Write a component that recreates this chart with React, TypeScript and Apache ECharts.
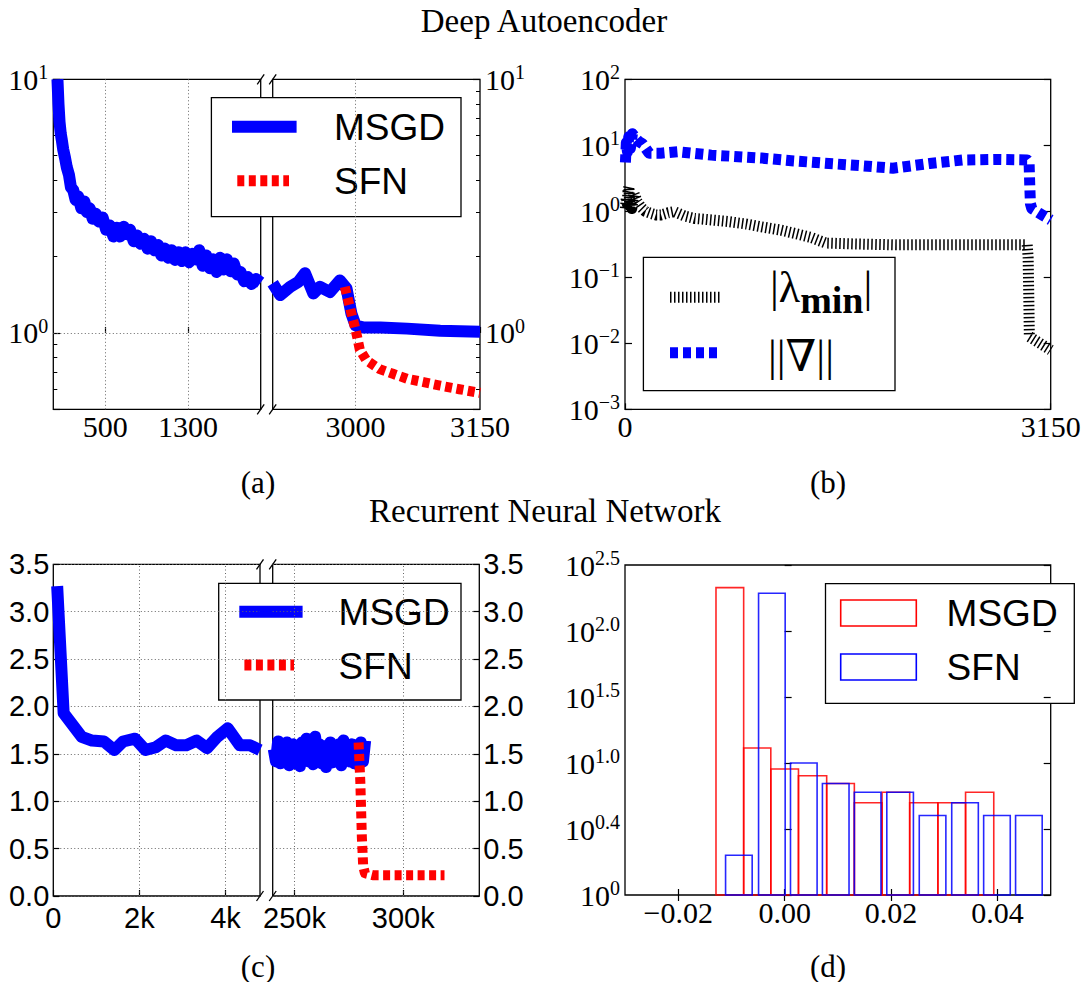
import React, { useEffect, useRef } from 'react';
import * as echarts from 'echarts';

const SERIF = '"Liberation Serif", "DejaVu Serif", serif';
const SANS = '"Liberation Sans", Arial, sans-serif';

// ---------- (a) Deep Autoencoder: training error ----------
const aLeftIter = [40, 50, 60, 72, 81, 95, 113, 130, 151, 170, 193, 215, 240, 270, 300, 322, 350, 380, 410, 440, 476, 510, 545, 580, 610, 643, 680, 709, 740, 775, 809, 840, 875, 910, 942, 975, 1010, 1042, 1075, 1110, 1142, 1175, 1210, 1240, 1275, 1310, 1340, 1375, 1408, 1440, 1475, 1510, 1541, 1575, 1610, 1641, 1675, 1710, 1740, 1774, 1805, 1840, 1874, 1910, 1955, 2000];
const aLeftMSGD = [10, 8.0, 6.8, 6.1, 5.8, 5.3, 4.9, 4.5, 4.2, 3.75, 3.65, 3.35, 3.45, 3.1, 3.3, 3.0, 3.1, 2.82, 2.95, 2.75, 2.85, 2.55, 2.65, 2.4, 2.6, 2.4, 2.62, 2.45, 2.55, 2.3, 2.42, 2.25, 2.35, 2.15, 2.3, 2.12, 2.22, 2.02, 2.15, 1.98, 2.12, 1.94, 2.08, 1.92, 2.08, 1.9, 2.05, 1.95, 2.12, 1.84, 2.02, 1.8, 1.95, 1.74, 1.98, 1.78, 1.95, 1.75, 1.88, 1.7, 1.74, 1.6, 1.66, 1.56, 1.63, 1.58];
const aRightIter = [2900, 2909, 2921, 2931, 2939, 2949, 2957, 2969, 2981, 2989, 2995, 3000, 3010, 3030, 3062, 3102, 3150];
const aRightMSGD = [1.57, 1.41, 1.52, 1.59, 1.72, 1.43, 1.52, 1.45, 1.61, 1.5, 1.19, 1.07, 1.05, 1.05, 1.04, 1.02, 1.01];
const aSfnIter = [2987, 2995, 2999, 3002, 3005, 3013, 3029, 3045, 3062, 3082, 3102, 3125, 3150];
const aSfn = [1.52, 1.19, 1.06, 0.96, 0.86, 0.78, 0.72, 0.69, 0.66, 0.64, 0.62, 0.6, 0.58];
const aLeftTicks = [500, 1300];
const aRightTicks = [3000, 3150];
const aMinorTickValues = [0.6, 0.7, 0.8, 0.9, 2, 3, 4, 5, 6, 7, 8, 9];

// ---------- (b) |lambda_min| and ||grad|| ----------
const bGradIter = [3, 10, 18, 28, 40, 55, 75, 100, 130, 178, 265, 389, 520, 639, 800, 1012, 1250, 1509, 1750, 1982, 2255, 2504, 2750, 2976, 2990, 2995, 3000, 3010, 3060, 3150];
const bGrad = [5.5, 11, 8, 13.5, 9, 15, 13, 11.5, 10.5, 7.6, 7.6, 8.0, 7.5, 7.1, 6.8, 6.4, 5.8, 5.3, 4.9, 4.5, 5.3, 6.0, 6.1, 6.0, 5.5, 2.5, 1.3, 1.1, 0.95, 0.74];
const bLamIter = [3, 10, 16, 22, 29, 35, 41, 50, 66, 90, 116, 150, 191, 230, 265, 320, 365, 440, 514, 640, 762, 900, 1012, 1150, 1261, 1380, 1485, 1700, 2008, 2500, 2976, 2983, 2988, 2992, 3150];
const bLam = [1.1, 1.6, 1.3, 2.0, 2.36, 1.2, 1.48, 1.1, 1.87, 1.4, 1.17, 1.0, 0.93, 0.88, 0.88, 0.95, 0.99, 0.85, 0.78, 0.74, 0.70, 0.64, 0.58, 0.52, 0.46, 0.40, 0.33, 0.32, 0.31, 0.31, 0.31, 0.2, 0.05, 0.0126, 0.0079];
const bXTicks = [0, 3150];

// ---------- (c) Recurrent Neural Network (iterations in thousands) ----------
const cLeftIter = [0.09, 0.24, 0.66, 0.9, 1.18, 1.42, 1.62, 1.9, 2.14, 2.38, 2.61, 2.85, 3.09, 3.33, 3.57, 3.81, 4.05, 4.33, 4.57, 4.8];
const cLeftMSGD = [3.27, 1.93, 1.68, 1.64, 1.63, 1.54, 1.63, 1.66, 1.54, 1.57, 1.64, 1.59, 1.59, 1.64, 1.56, 1.68, 1.77, 1.59, 1.59, 1.54];
const cRightIter = [240.5, 241.5, 242.5, 243.5, 244.5, 245.5, 246.5, 247.5, 248.5, 249.5, 250.5, 251.5, 252.5, 253.5, 254.5, 255.5, 256.5, 257.5, 258.5, 259.5, 260.5, 261.5, 262.5, 263.5, 264.5, 265.5, 266.5, 267.5, 268.5, 269.5, 270.5, 271.5, 272.5, 273.5, 274.5, 275.5, 276.5, 277.5, 278.5, 279.5, 280.5, 281.5, 282.5];
const cRightMSGD = [1.55, 1.42, 1.63, 1.40, 1.58, 1.45, 1.62, 1.38, 1.55, 1.60, 1.40, 1.57, 1.37, 1.62, 1.45, 1.66, 1.42, 1.55, 1.39, 1.68, 1.45, 1.60, 1.40, 1.58, 1.36, 1.55, 1.62, 1.41, 1.57, 1.44, 1.60, 1.38, 1.64, 1.45, 1.58, 1.42, 1.60, 1.40, 1.55, 1.38, 1.62, 1.42, 1.64];
const cSfnIter = [279.5, 280.3, 281.0, 281.6, 282.4, 286, 300, 319];
const cSfn = [1.62, 1.2, 0.62, 0.32, 0.24, 0.22, 0.22, 0.22];
const cLeftTicks = [0, 2, 4];
const cRightTicks = [250, 300];

// ---------- (d) histograms ----------
const dMsgdEdges = [-0.0129, -0.0077, -0.0026, 0.0026, 0.0079, 0.0131, 0.0183, 0.0235, 0.0288, 0.0340, 0.0393];
const dMsgdCounts = [213, 13, 9, 8, 7, 5, 6, 5, 5, 6];
const dSfnStarts = [-0.0111, -0.0049, 0.0011, 0.0071, 0.0131, 0.0192, 0.0253, 0.0314, 0.0374, 0.0434];
const dSfnBarWidth = 0.0050;
const dSfnCounts = [2, 193, 10, 7, 6, 6, 4, 5, 4, 4];
const dXTicks = [-0.02, 0, 0.02, 0.04];
const dExpLabels = ['0', '0.4', '1.0', '1.5', '2.0', '2.5'];

const zip = (xs: number[], ys: number[]) => xs.map((x, i) => [x, ys[i]]);

const BLUE = '#0000ff';
const RED = '#ff0000';
const GRID_LINE = { type: [1, 2.5], color: '#666', width: 1 };
const TICK_FONT = 30;

const supRich = {
  b: { fontFamily: SERIF, fontSize: TICK_FONT, lineHeight: 34, color: '#000' },
  e: { fontFamily: SERIF, fontSize: 20, lineHeight: 21, verticalAlign: 'top', color: '#000' },
};
const decadeFmt = (v: number) => {
  const e = Math.log10(v);
  const r = Math.round(e);
  if (Math.abs(e - r) > 1e-6) return '';
  return `{b|10}{e|${r < 0 ? '\u2212' + -r : r}}`;
};

const noLine = { axisLine: { show: false }, splitLine: { show: false } };
const tickStyle = { color: '#000', width: 1.2 };

function xAxis(gridIndex: number, min: number, max: number, ticks: number[], formatter: any, font = SERIF, size = TICK_FONT, position = 'bottom', showLabel = true, margin = 2) {
  return {
    type: 'value', gridIndex, min, max, position, ...noLine,
    axisTick: { show: true, inside: true, length: 6, customValues: ticks, lineStyle: tickStyle },
    axisLabel: { show: showLabel, customValues: ticks, formatter, margin, color: '#000', fontFamily: font, fontSize: size },
  };
}
function yLog(gridIndex: number, min: number, max: number, position: string, showLabel: boolean) {
  return {
    type: 'log', logBase: 10, gridIndex, min, max, position, ...noLine,
    axisTick: { show: true, inside: true, length: 7, lineStyle: tickStyle },
    axisLabel: { show: showLabel, formatter: decadeFmt, rich: supRich, margin: 5 },
  };
}
function yMinor(gridIndex: number, position: string) {
  return {
    type: 'value', gridIndex, min: Math.log10(0.5), max: 1, position, ...noLine,
    axisLabel: { show: false },
    axisTick: { show: true, inside: true, length: 4, customValues: aMinorTickValues.map(Math.log10), lineStyle: { color: '#000', width: 1 } },
  };
}
function yLin(gridIndex: number, position: string) {
  return {
    type: 'value', gridIndex, min: 0, max: 3.5, interval: 0.5, position,
    axisLine: { show: false },
    splitLine: { show: true, lineStyle: GRID_LINE },
    axisTick: { show: true, inside: true, length: 6, lineStyle: tickStyle },
    axisLabel: { formatter: (v: number) => v.toFixed(1), margin: 4, color: '#000', fontFamily: SANS, fontSize: 29 },
  };
}
function yExp(gridIndex: number, position: string, showLabel: boolean) {
  return {
    type: 'value', gridIndex, min: 0, max: 2.5, interval: 0.5, position, ...noLine,
    axisTick: { show: true, inside: true, length: 7, lineStyle: tickStyle },
    axisLabel: { show: showLabel, formatter: (v: number) => `{b|10}{e|${dExpLabels[Math.round(v / 0.5)]}}`, rich: supRich, margin: 5 },
  };
}

const gridMarks = (xs: number[], ys: number[]) => ({
  silent: true, symbol: ['none', 'none'], z: 1, animation: false,
  label: { show: false }, lineStyle: GRID_LINE, emphasis: { disabled: true },
  data: [...xs.map((v) => ({ xAxis: v })), ...ys.map((v) => ({ yAxis: v }))],
});

function lineSeries(name: string, xi: number, yi: number, data: number[][], lineStyle: any, markLine?: any) {
  return {
    name, type: 'line', xAxisIndex: xi, yAxisIndex: yi, data, symbol: 'none', showSymbol: false,
    lineStyle: { cap: 'butt', join: 'round', ...lineStyle }, emphasis: { disabled: true }, silent: true,
    ...(markLine ? { markLine } : {}),
  };
}

function histSeries(name: string, data: number[][], color: string) {
  return {
    name, type: 'custom', xAxisIndex: 5, yAxisIndex: 8, data, silent: true,
    encode: { x: [0, 1], y: 2 },
    renderItem: (_p: any, api: any) => {
      const a = api.coord([api.value(0), api.value(2)]);
      const b = api.coord([api.value(1), 1]);
      return {
        type: 'rect',
        shape: { x: a[0], y: a[1], width: b[0] - a[0], height: b[1] - a[1] },
        style: { fill: 'none', stroke: color, lineWidth: 1.6, opacity: 0.85 },
      };
    },
  };
}

function txt(x: number, y: number, text: string, font: string, align = 'left') {
  return { type: 'text', x, y, style: { text, font, fill: '#000', align, verticalAlign: 'middle', textAlign: align, textVerticalAlign: 'middle' } };
}
function hline(x1: number, x2: number, y: number, stroke: string, lineWidth: number, lineDash?: number[]) {
  return { type: 'line', shape: { x1, y1: y, x2, y2: y }, style: { stroke, lineWidth, lineDash: lineDash || null, lineCap: 'butt' } };
}
function box(x: number, y: number, width: number, height: number, stroke = '#000', lineWidth = 1.3) {
  return { type: 'rect', shape: { x, y, width, height }, style: { fill: stroke === '#000' ? '#fff' : 'none', stroke, lineWidth } };
}
function breakMarks(xs: number[], ys: number[]) {
  const out: any[] = [];
  xs.forEach((s) => ys.forEach((t) => out.push({ type: 'line', shape: { x1: s - 3.5, y1: t + 5, x2: s + 3.5, y2: t - 5 }, style: { stroke: '#000', lineWidth: 1.3 } })));
  return out;
}

function buildOption() {
  const g = (left: number, top: number, width: number, height: number) => ({
    left, top, width, height, show: true, borderColor: '#000', borderWidth: 1.3, backgroundColor: '#fff', containLabel: false, outerBoundsMode: 'none',
  });
  const kFmt = (v: number) => (v === 0 ? '0' : `${v}k`);
  const dFmt = (v: number) => (v < 0 ? '\u2212' : '') + Math.abs(v).toFixed(2);

  const msgdHist = dMsgdCounts.map((c, i) => [dMsgdEdges[i], dMsgdEdges[i + 1], c]);
  const sfnHist = dSfnCounts.map((c, i) => [dSfnStarts[i], dSfnStarts[i] + dSfnBarWidth, c]);

  const lamRich = {
    a: { fontFamily: SERIF, fontSize: 44, lineHeight: 64, color: '#000' },
    m: { fontFamily: SERIF, fontSize: 38, fontWeight: 'bold', lineHeight: 38, padding: [26, 0, 0, 0], verticalAlign: 'top', color: '#000' },
  };

  return {
    animation: false,
    backgroundColor: '#fff',
    grid: [
      g(53.3, 79.3, 207.4, 330),
      g(272.7, 79.3, 207.3, 330),
      g(625, 79.3, 425.7, 330),
      g(53.3, 564.3, 206.7, 331.7),
      g(272.7, 564.3, 206.6, 331.7),
      g(625, 565, 425.7, 330),
    ],
    xAxis: [
      xAxis(0, 0, 2000, aLeftTicks, (v: number) => `${v}`),
      xAxis(1, 2900, 3150, aRightTicks, (v: number) => `${v}`),
      xAxis(2, 0, 3150, bXTicks, (v: number) => `${v}`),
      xAxis(3, 0, 4.8, cLeftTicks, kFmt, SANS, 29, 'bottom', true, 7),
      xAxis(4, 240, 335, cRightTicks, kFmt, SANS, 29, 'bottom', true, 7),
      xAxis(5, -0.03, 0.05, dXTicks, dFmt),
      xAxis(5, -0.03, 0.05, dXTicks, dFmt, SERIF, TICK_FONT, 'top', false),
    ],
    yAxis: [
      yLog(0, 0.5, 10, 'left', true),
      yMinor(0, 'left'),
      yLog(1, 0.5, 10, 'right', true),
      yMinor(1, 'right'),
      yLog(2, 0.001, 100, 'left', true),
      yLog(2, 0.001, 100, 'right', false),
      yLin(3, 'left'),
      yLin(4, 'right'),
      { type: 'log', logBase: 10, gridIndex: 5, min: 1, max: 316.2278, show: false },
      yExp(5, 'left', true),
      yExp(5, 'right', false),
    ],
    series: [
      lineSeries('MSGD', 0, 0, zip(aLeftIter, aLeftMSGD), { color: BLUE, width: 12 }, gridMarks(aLeftTicks, [1])),
      lineSeries('MSGD', 1, 2, zip(aRightIter, aRightMSGD), { color: BLUE, width: 12 }, gridMarks([3000], [1])),
      lineSeries('SFN', 1, 2, zip(aSfnIter, aSfn), { color: RED, width: 10, type: [7, 4.5] }),
      lineSeries('lambda', 2, 4, zip(bLamIter, bLam), { color: '#000', width: 11, type: [1.5, 2.5] }),
      lineSeries('grad', 2, 4, zip(bGradIter, bGrad), { color: BLUE, width: 11, type: [8, 5] }),
      lineSeries('MSGD', 3, 6, zip(cLeftIter, cLeftMSGD), { color: BLUE, width: 12 }, gridMarks([2, 4], [])),
      lineSeries('MSGD', 4, 7, zip(cRightIter, cRightMSGD), { color: BLUE, width: 12 }, gridMarks(cRightTicks, [])),
      lineSeries('SFN', 4, 7, zip(cSfnIter, cSfn), { color: RED, width: 10, type: [7, 4.5] }),
      histSeries('MSGD', msgdHist, RED),
      histSeries('SFN', sfnHist, BLUE),
    ],
    graphic: [
      // titles and panel letters
      txt(544, 21, 'Deep Autoencoder', `33px ${SERIF}`, 'center'),
      txt(258, 482, '(a)', `31px ${SERIF}`, 'center'),
      txt(828, 482, '(b)', `31px ${SERIF}`, 'center'),
      txt(545, 511, 'Recurrent Neural Network', `33px ${SERIF}`, 'center'),
      txt(258, 966, '(c)', `31px ${SERIF}`, 'center'),
      txt(828, 966, '(d)', `31px ${SERIF}`, 'center'),
      // break marks
      ...breakMarks([260.7, 272.7], [79.3, 409.3]),
      ...breakMarks([260, 272.7], [564.3, 896]),
      // legend (a)
      box(211.4, 97.7, 249.6, 119),
      hline(232, 296.6, 126.7, BLUE, 12),
      txt(334, 127, 'MSGD', `37px ${SANS}`),
      hline(237.3, 289, 180.7, RED, 11, [7, 4.5]),
      txt(334, 181, 'SFN', `37px ${SANS}`),
      // legend (b)
      box(643.4, 257.3, 251.6, 133.4),
      hline(670, 721, 297.3, '#000', 11, [1.5, 2.5]),
      { type: 'text', x: 770, y: 287, style: { text: '{a||\u03bb}{m|min}{a||}', rich: lamRich, fill: '#000', align: 'left', verticalAlign: 'middle', textAlign: 'left', textVerticalAlign: 'middle' } },
      hline(670, 721, 352.7, BLUE, 11, [8, 5]),
      txt(768, 356, '||\u2207||', `44px ${SERIF}`),
      // legend (c)
      box(218.7, 583.3, 242.3, 116.7),
      hline(239.3, 302.6, 611.7, BLUE, 12),
      txt(338.6, 612, 'MSGD', `37px ${SANS}`),
      hline(244.4, 294, 665, RED, 11, [7, 4.5]),
      txt(338.6, 666, 'SFN', `37px ${SANS}`),
      // legend (d)
      box(825.5, 583.7, 248.8, 119.6),
      box(840.7, 600, 75.6, 26, RED, 1.6),
      txt(946.6, 613, 'MSGD', `37px ${SANS}`),
      box(840.7, 654, 75.6, 26, BLUE, 1.6),
      txt(946.6, 667, 'SFN', `37px ${SANS}`),
    ],
  };
}

export default function App() {
  const ref = useRef<HTMLDivElement>(null);
  useEffect(() => {
    const chart = echarts.init(ref.current as HTMLDivElement, null, { renderer: 'svg' });
    chart.setOption(buildOption() as any);
    return () => chart.dispose();
  }, []);
  return <div ref={ref} style={{ position: 'absolute', left: 0, top: 0, width: 1086, height: 982, background: '#fff' }} />;
}
